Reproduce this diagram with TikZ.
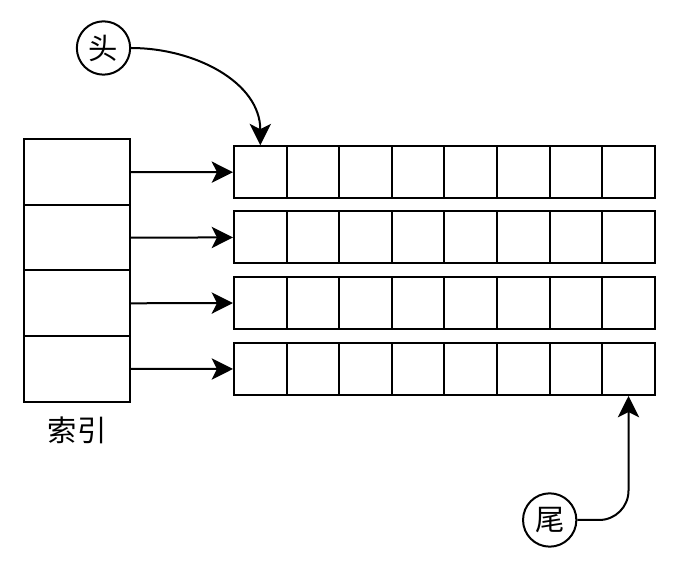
\documentclass[tikz,border=0pt]{standalone}
\usepackage{fontspec}
\newfontfamily\cjk{Noto Sans CJK SC}
\usetikzlibrary{arrows.meta}
\begin{document}
\begin{tikzpicture}[x=0.75pt,y=-0.75pt,
    bordo/.style={draw, line width=1.5pt, inner sep=0pt},
    indice/.style={bordo, minimum width=79.5pt, minimum height=49.2pt},
    cella/.style={bordo, minimum width=39.45pt, minimum height=39pt},
    cerchio/.style={bordo, circle, minimum size=40pt, font=\cjk\fontsize{22}{26}\selectfont},
    freccia/.style={-{Stealth[length=16pt, width=16pt, inset=4pt]}, line width=1.5pt}]
        \useasboundingbox (0,0) rectangle (679,566);

        % Disegna l'indice
        \foreach \r in {1,...,4}
            \node[indice] (i\r) at (77, {139.3+65.6*(\r-0.5)}) {};
        \node[font=\cjk\fontsize{22}{26}\selectfont] (etichetta) at (77,430) {索引};

        % Disegna le righe di celle
        \foreach \r/\y in {1/172.2, 2/237.4, 3/303, 4/369}
            \foreach \c in {1,...,8}
                \node[cella] (c-\r-\c) at ({234+52.6*(\c-0.5)}, \y) {};

        % Frecce dall'indice alle righe
        \foreach \r in {1,...,4}
            \draw[freccia] (i\r.east) -- (c-\r-1.west);

        % Testa e coda
        \node[cerchio] (testa) at (103.5,48) {头};
        \node[cerchio] (coda) at (549.7,520) {尾};

        \draw[freccia] (testa.east) to[out=0, in=90] (c-1-1.north);
        \draw[freccia, rounded corners=22pt] (coda.east) -| (c-4-8.south);
    \end{tikzpicture}
\end{document}
